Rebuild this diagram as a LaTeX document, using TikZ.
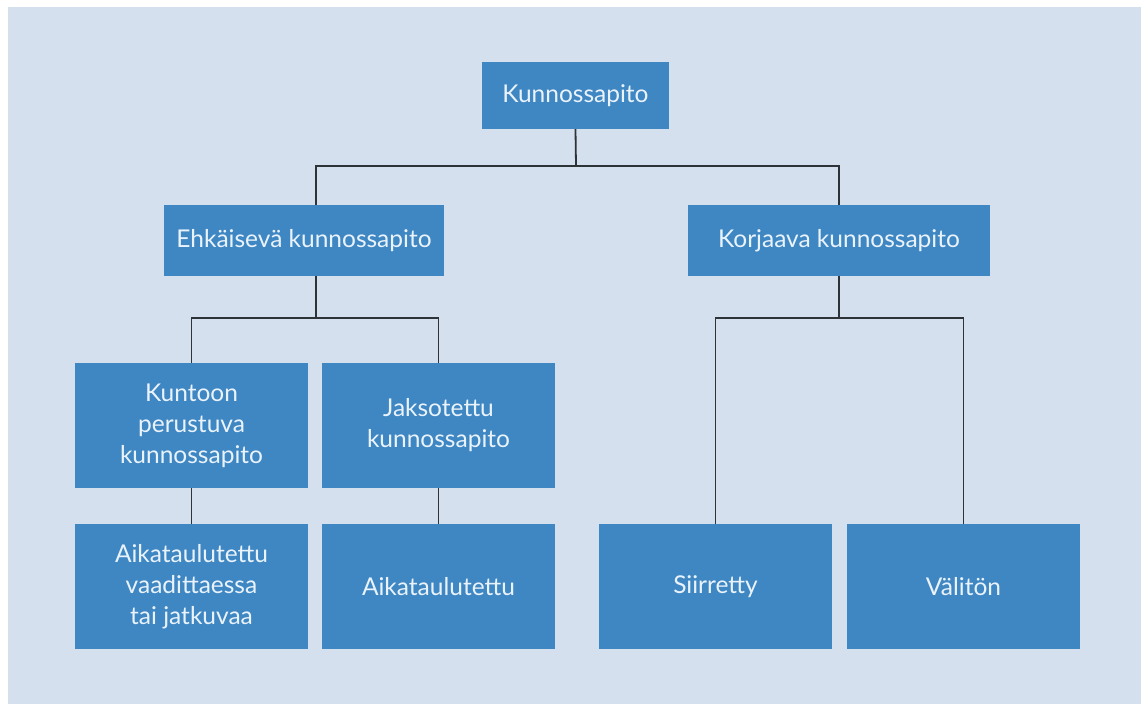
\documentclass[tikz,border=0pt]{standalone}
\usepackage{fontspec}
\setmainfont{Lato}
\usepackage{tikz}
\usetikzlibrary{positioning}
\usepackage{xcolor}

\definecolor{bgblue}{HTML}{D5E0EE}
\definecolor{boxblue}{HTML}{3F87C3}
\definecolor{textblue}{HTML}{EAF3FB}
\definecolor{linegray}{HTML}{2E3338}

\begin{document}
\begin{tikzpicture}[
    x=1pt, y=-1pt,
    box/.style={rectangle, fill=boxblue, text=textblue, align=center,
        inner sep=0pt, font=\fontsize{24.5}{31}\selectfont},
    wire/.style={draw=linegray, line width=1.8pt}
]

    % Background
    \useasboundingbox (0,0) rectangle (1141,704);
    \fill[white] (0,0) rectangle (1141,704);
    \fill[bgblue] (8,7) rectangle (1141,704);

    % Top level
    \node[box, minimum width=187pt, minimum height=67pt] (root) at (575.5,95.5) {Kunnossapito};

    % Second level
    \node[box, minimum width=280pt, minimum height=71pt] (ehk) at (304,240.5) {Ehkäisevä kunnossapito};
    \node[box, minimum width=302pt, minimum height=71pt] (kor) at (839,240.5) {Korjaava kunnossapito};

    % Third level
    \node[box, minimum width=233pt, minimum height=125pt] (kunto) at (191.5,425.5) {Kuntoon\\perustuva\\kunnossapito};
    \node[box, minimum width=233pt, minimum height=125pt] (jakso) at (438.5,425.5) {Jaksotettu\\kunnossapito};

    % Bottom level
    \node[box, minimum width=233pt, minimum height=125pt] (vaad) at (191.5,586.5) {Aikataulutettu\\vaadittaessa\\tai jatkuvaa};
    \node[box, minimum width=233pt, minimum height=125pt] (aika) at (438.5,586.5) {Aikataulutettu};
    \node[box, minimum width=233pt, minimum height=125pt] (siir) at (715.5,586.5) {Siirretty};
    \node[box, minimum width=233pt, minimum height=125pt] (vali) at (963.5,586.5) {Välitön};

    % Branch points
    \coordinate (j1) at (576,166);
    \coordinate (j2) at (316,318);
    \coordinate (j3) at (839,318);

    % Connect root to second level
    \draw[wire] (root.south) -- (j1);
    \draw[wire] (ehk.north -| j2) |- (j1) -| (kor.north);

    % Connect preventive branch
    \draw[wire] (ehk.south -| j2) -- (j2);
    \draw[wire] (kunto.north) |- (j2) -| (jakso.north);
    \draw[wire] (kunto.south) -- (vaad.north);
    \draw[wire] (jakso.south) -- (aika.north);

    % Connect corrective branch
    \draw[wire] (kor.south) -- (j3);
    \draw[wire] (siir.north) |- (j3) -| (vali.north);
\end{tikzpicture}
\end{document}
